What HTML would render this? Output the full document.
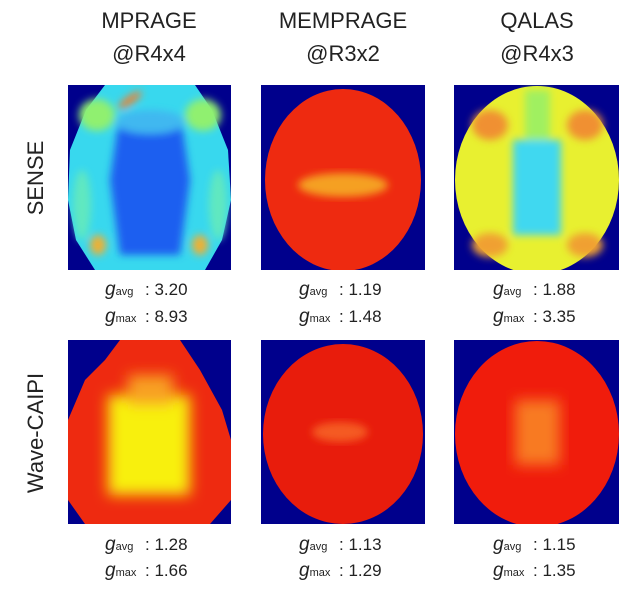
<!DOCTYPE html>
<html><head><meta charset="utf-8">
<style>
body{margin:0;background:#fff;width:640px;height:589px;overflow:hidden;font-family:"Liberation Sans",sans-serif;}
svg{display:block}
</style></head><body>
<svg width="640" height="589" viewBox="0 0 640 589" xmlns="http://www.w3.org/2000/svg">
<defs>
<filter id="bl" x="-20%" y="-20%" width="140%" height="140%"><feGaussianBlur stdDeviation="4"/></filter>
<filter id="bl2" x="-20%" y="-20%" width="140%" height="140%"><feGaussianBlur stdDeviation="7"/></filter>
<clipPath id="c1"><rect x="68" y="85" width="163" height="185"/></clipPath>
<clipPath id="c2"><rect x="261" y="85" width="164" height="185"/></clipPath>
<clipPath id="c3"><rect x="454" y="85" width="165" height="185"/></clipPath>
<clipPath id="c4"><rect x="68" y="340" width="163" height="184"/></clipPath>
<clipPath id="c5"><rect x="261" y="340" width="164" height="184"/></clipPath>
<clipPath id="c6"><rect x="454" y="340" width="165" height="184"/></clipPath>
</defs>

<g font-size="22" fill="#222" text-anchor="middle">
<text x="149" y="28">MPRAGE</text>
<text x="149" y="61">@R4x4</text>
<text x="343" y="28">MEMPRAGE</text>
<text x="343" y="61">@R3x2</text>
<text x="537" y="28">QALAS</text>
<text x="537" y="61">@R4x3</text>
</g>
<text transform="translate(43,178) rotate(-90)" font-size="22" fill="#222" text-anchor="middle">SENSE</text>
<text transform="translate(43,433) rotate(-90)" font-size="22" fill="#222" text-anchor="middle">Wave-CAIPI</text>

<!-- Panel 1: MPRAGE SENSE -->
<g clip-path="url(#c1)">
<rect x="68" y="85" width="163" height="185" fill="#00008c"/>
<path d="M105,85 L195,85 L212,110 L228,150 L231,200 L222,240 L205,270 L95,270 L76,240 L68,200 L70,150 L86,110 Z" fill="#38d8ee"/>
<g filter="url(#bl)">
<path d="M118,125 L182,125 L190,180 L180,255 L120,255 L110,180 Z" fill="#1f5ef0"/>
<ellipse cx="150" cy="122" rx="35" ry="12" fill="#40b8f0"/>
<ellipse cx="97" cy="115" rx="18" ry="16" fill="#90f070"/>
<ellipse cx="203" cy="115" rx="18" ry="16" fill="#90f070"/>
<ellipse cx="82" cy="205" rx="9" ry="35" fill="#60e8c0"/>
<ellipse cx="218" cy="205" rx="9" ry="35" fill="#60e8c0"/>
<ellipse cx="98" cy="245" rx="8" ry="10" fill="#f0b030"/>
<ellipse cx="200" cy="245" rx="8" ry="10" fill="#f0b030"/>
<ellipse cx="130" cy="100" rx="14" ry="4" fill="#f08030" transform="rotate(-35 130 100)"/>
</g>
</g>
<!-- Panel 2: MEMPRAGE SENSE -->
<g clip-path="url(#c2)">
<rect x="261" y="85" width="164" height="185" fill="#00008c"/>
<ellipse cx="343" cy="180" rx="78" ry="91" fill="#ee2a10"/>
<ellipse cx="343" cy="185" rx="45" ry="12" fill="#f5a020" filter="url(#bl)"/>
</g>
<!-- Panel 3: QALAS SENSE -->
<g clip-path="url(#c3)">
<rect x="454" y="85" width="165" height="185" fill="#00008c"/>
<ellipse cx="537" cy="180" rx="82" ry="94" fill="#e8f030"/>
<g filter="url(#bl)">
<rect x="513" y="140" width="48" height="95" fill="#40d8f0"/>
<ellipse cx="490" cy="125" rx="18" ry="15" fill="#f09030"/>
<ellipse cx="585" cy="125" rx="18" ry="15" fill="#f09030"/>
<ellipse cx="490" cy="245" rx="18" ry="12" fill="#f0a030"/>
<ellipse cx="585" cy="245" rx="18" ry="12" fill="#f0a030"/>
<rect x="525" y="90" width="25" height="50" fill="#a0f060"/>
</g>
</g>
<!-- Row 2 -->
<g clip-path="url(#c4)">
<rect x="68" y="340" width="163" height="184" fill="#00008c"/>
<path d="M120,340 L180,340 L200,370 L222,410 L231,440 L231,500 L210,524 L85,524 L68,500 L68,420 L85,380 L105,360 Z" fill="#ee2a10"/>
<g filter="url(#bl2)">
<rect x="108" y="395" width="82" height="100" fill="#f8f010"/>
<rect x="128" y="375" width="45" height="30" fill="#f8a020"/>
</g>
</g>
<g clip-path="url(#c5)">
<rect x="261" y="340" width="164" height="184" fill="#00008c"/>
<ellipse cx="343" cy="434" rx="80" ry="90" fill="#e81c0c"/>
<ellipse cx="340" cy="432" rx="28" ry="10" fill="#f55a20" filter="url(#bl)"/>
</g>
<g clip-path="url(#c6)">
<rect x="454" y="340" width="165" height="184" fill="#00008c"/>
<ellipse cx="537" cy="434" rx="82" ry="93" fill="#f01c0c"/>
<rect x="515" y="400" width="45" height="65" fill="#f87a20" filter="url(#bl2)"/>
</g>

<g font-size="17" fill="#222">
<g>
<text x="105" y="295"><tspan font-style="italic" font-size="19">g</tspan><tspan font-size="11">avg</tspan><tspan x="145">: 3.20</tspan></text>
<text x="105" y="322"><tspan font-style="italic" font-size="19">g</tspan><tspan font-size="11">max</tspan><tspan x="145">: 8.93</tspan></text>
</g>
<g>
<text x="299" y="295"><tspan font-style="italic" font-size="19">g</tspan><tspan font-size="11">avg</tspan><tspan x="339">: 1.19</tspan></text>
<text x="299" y="322"><tspan font-style="italic" font-size="19">g</tspan><tspan font-size="11">max</tspan><tspan x="339">: 1.48</tspan></text>
</g>
<g>
<text x="493" y="295"><tspan font-style="italic" font-size="19">g</tspan><tspan font-size="11">avg</tspan><tspan x="533">: 1.88</tspan></text>
<text x="493" y="322"><tspan font-style="italic" font-size="19">g</tspan><tspan font-size="11">max</tspan><tspan x="533">: 3.35</tspan></text>
</g>
<g>
<text x="105" y="550"><tspan font-style="italic" font-size="19">g</tspan><tspan font-size="11">avg</tspan><tspan x="145">: 1.28</tspan></text>
<text x="105" y="576"><tspan font-style="italic" font-size="19">g</tspan><tspan font-size="11">max</tspan><tspan x="145">: 1.66</tspan></text>
</g>
<g>
<text x="299" y="550"><tspan font-style="italic" font-size="19">g</tspan><tspan font-size="11">avg</tspan><tspan x="339">: 1.13</tspan></text>
<text x="299" y="576"><tspan font-style="italic" font-size="19">g</tspan><tspan font-size="11">max</tspan><tspan x="339">: 1.29</tspan></text>
</g>
<g>
<text x="493" y="550"><tspan font-style="italic" font-size="19">g</tspan><tspan font-size="11">avg</tspan><tspan x="533">: 1.15</tspan></text>
<text x="493" y="576"><tspan font-style="italic" font-size="19">g</tspan><tspan font-size="11">max</tspan><tspan x="533">: 1.35</tspan></text>
</g>
</g>
</svg>
</body></html>
